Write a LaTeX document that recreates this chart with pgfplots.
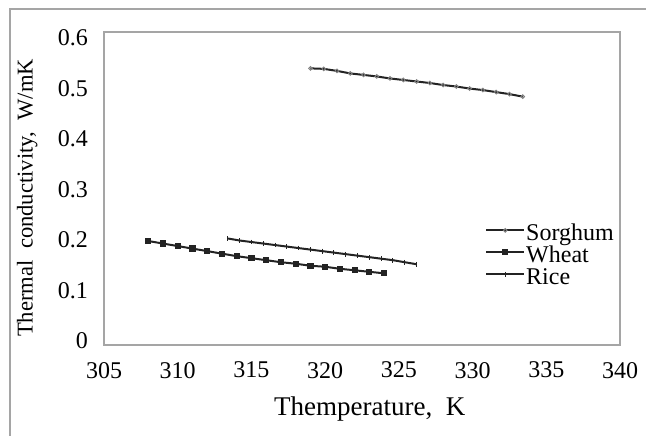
\documentclass[border=0pt]{standalone}
\usepackage{pgfplots}
\pgfplotsset{compat=1.18}
\usepackage{fontspec}
\setmainfont{Liberation Serif}
\definecolor{framegray}{RGB}{165,165,165}
\definecolor{linecol}{RGB}{35,35,35}
\begin{document}
\begin{tikzpicture}
\useasboundingbox (-52pt,-45pt) rectangle (271pt,172.5pt);
\draw[framegray, line width=1pt] (-47pt,-60pt) -- (-47pt,168pt) -- (290pt,168pt);
\begin{axis}[
  at={(0pt,0pt)}, anchor=south west,
  scale only axis, width=258pt, height=156.5pt,
  xmin=305, xmax=340, ymin=-0.008, ymax=0.612,
  xtick={305,310,...,340}, ytick={0,0.1,...,0.6},
  yticklabels={0,0.1,0.2,0.3,0.4,0.5,0.6},
  major tick length=0pt,
  axis line style={framegray, line width=1pt},
  tick label style={font=\fontsize{12}{13}\selectfont},
  /pgf/number format/assume math mode=true,
  xticklabel shift=5pt,
  yticklabel shift=4.5pt,
  xlabel={Themperature,\ \ K},
  ylabel={Thermal\ \ conductivity,\ \ W/mK},
  every axis x label/.style={at={(axis description cs:0.515,-0.2045)}, anchor=center, font=\fontsize{13.5}{15}\selectfont},
  every axis y label/.style={at={(axis description cs:-0.149,0.47)}, anchor=center, rotate=90, font=\fontsize{11.3}{13}\selectfont},
  legend style={at={(axis description cs:0.738,0.39)}, anchor=north west, draw=none, fill=white,
    inner sep=0pt, row sep=1pt, font=\fontsize{12}{13}\selectfont,
    nodes={text height=8pt, text depth=1pt, inner sep=0.5pt, font=\fontsize{12}{13}\selectfont},
    /tikz/every even column/.append style={column sep=0pt}},
  legend cell align=left,
  legend image code/.code={\draw[mark repeat=2,mark phase=2,#1] plot coordinates {(0pt,1.5pt)(9.5pt,1.5pt)(19pt,1.5pt)};},
]
\addplot[linecol, line width=1pt, mark=o, mark size=0.9pt, mark options={gray, line width=0.5pt}] coordinates {
(319.0,0.540) (319.9,0.539) (320.8,0.535) (321.7,0.530) (322.6,0.527) (323.5,0.524)
(324.4,0.520) (325.3,0.517) (326.2,0.514) (327.1,0.511) (328.0,0.507) (328.9,0.504)
(329.8,0.500) (330.7,0.497) (331.6,0.493) (332.5,0.489) (333.4,0.484)};
\addlegendentry{Sorghum}
\addplot[linecol, line width=1pt, mark=square*, mark size=1.3pt, mark options={fill=linecol, line width=0.5pt}] coordinates {
(308,0.198) (309,0.193) (310,0.188) (311,0.183) (312,0.178) (313,0.173) (314,0.168)
(315,0.164) (316,0.160) (317,0.156) (318,0.153) (319,0.149) (320,0.147) (321,0.143)
(322,0.140) (323,0.137) (324,0.134)};
\addlegendentry{Wheat}
\addplot[linecol, line width=1pt, mark=|, mark size=1.2pt, mark options={line width=0.5pt}] coordinates {
(313.4,0.203) (314.2,0.199) (315.0,0.196) (315.8,0.193) (316.6,0.190) (317.4,0.187)
(318.2,0.184) (319.0,0.181) (319.8,0.178) (320.6,0.175) (321.4,0.172) (322.2,0.169)
(323.0,0.166) (323.8,0.163) (324.6,0.160) (325.4,0.156) (326.2,0.152)};
\addlegendentry{Rice}
\end{axis}
\end{tikzpicture}
\end{document}
